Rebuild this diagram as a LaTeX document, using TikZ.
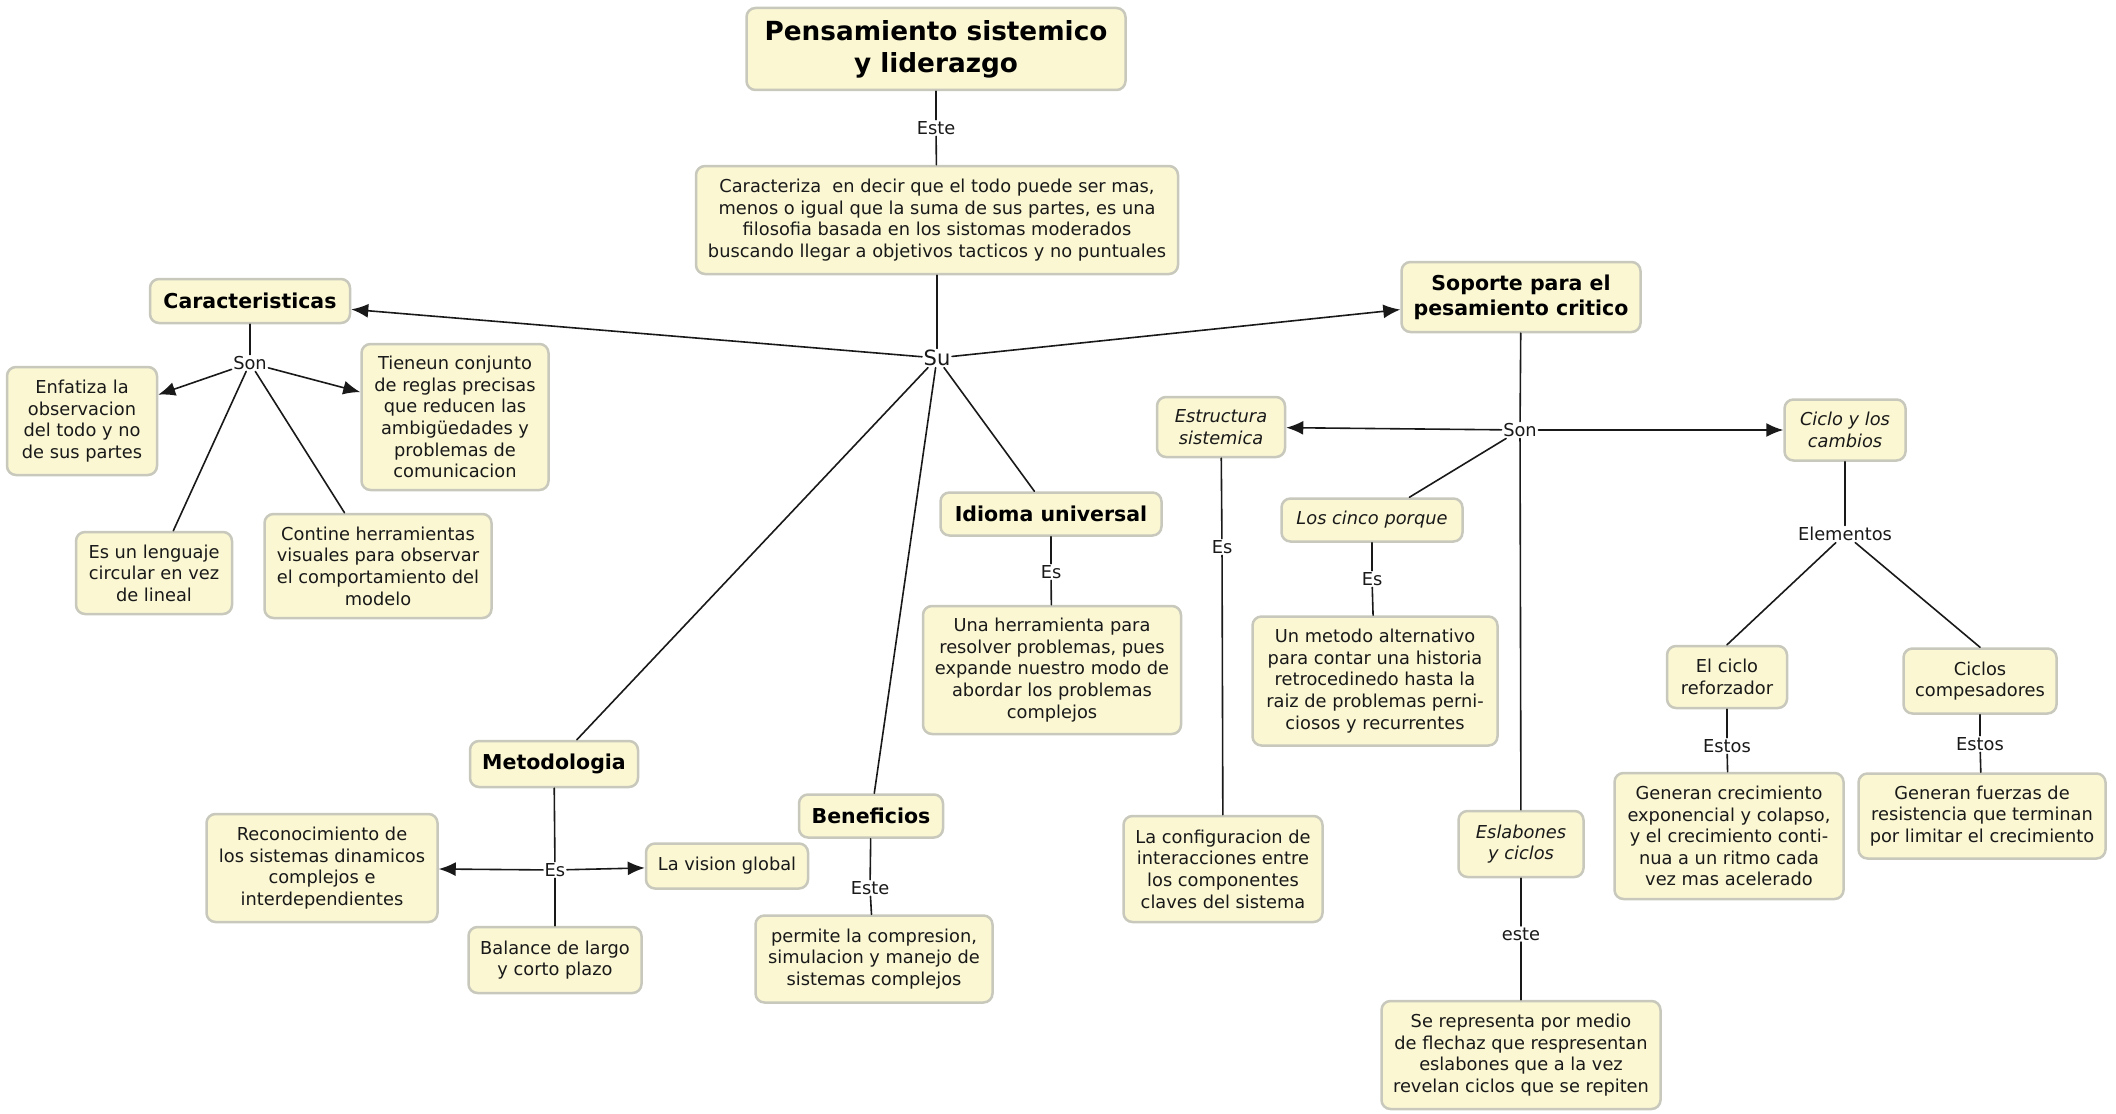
\documentclass[tikz,border=0pt]{standalone}
\usepackage{fontspec}
\setmainfont{DejaVu Sans}
\usetikzlibrary{arrows.meta}
\definecolor{cream}{RGB}{250,247,210}
\definecolor{rim}{RGB}{200,200,188}
\definecolor{ink}{RGB}{25,25,25}
\tikzset{
  concept/.style={draw=rim, line width=2.5pt, fill=cream, rounded corners=9pt, align=center,
    inner sep=4pt, text=ink, font=\fontsize{17.8}{21.6}\selectfont},
  head/.style={concept, text=black, font=\bfseries\fontsize{20.5}{25}\selectfont},
  lbl/.style={fill=white, inner sep=1.5pt, text=ink, font=\fontsize{17.8}{20}\selectfont},
  link/.style={draw=ink, line width=1.6pt},
  arr/.style={link, -{Latex[length=17pt,width=14pt]}},
}
\begin{document}
\begin{tikzpicture}[x=1pt, y=-1pt, line join=round, line cap=round]
\useasboundingbox[fill=white] (0,0) rectangle (2116,1113);
% centre
\node[head, minimum width=379pt, minimum height=82pt, font=\bfseries\fontsize{26.3}{32}\selectfont] (titulo) at (936,49) {Pensamiento sistemico\\y liderazgo};
\node[lbl] (este1) at (936,128) {Este};
\node[concept, minimum width=482pt, minimum height=108pt] (filosofia) at (937,220) {Caracteriza\ \ en decir que el todo puede ser mas,\\menos o igual que la suma de sus partes, es una\\filosofia basada en los sistomas moderados\\buscando llegar a objetivos tacticos y no puntuales};
\node[lbl, font=\fontsize{21}{24}\selectfont] (su) at (937,358) {Su};
% caracteristicas
\node[head, minimum width=200pt, minimum height=44pt] (caracteristicas) at (250,301) {Caracteristicas};
\node[lbl] (son1) at (250,363) {Son};
\node[concept, minimum width=150pt, minimum height=108pt] (enfatiza) at (82,421) {Enfatiza la\\observacion\\del todo y no\\de sus partes};
\node[concept, minimum width=187pt, minimum height=146pt] (reglas) at (455,417) {Tieneun conjunto\\de reglas precisas\\que reducen las\\ambigüedades y\\problemas de\\comunicacion};
\node[concept, minimum width=156pt, minimum height=82pt] (lenguaje) at (154,573) {Es un lenguaje\\circular en vez\\de lineal};
\node[concept, minimum width=227pt, minimum height=104pt] (visuales) at (378,566) {Contine herramientas\\visuales para observar\\el comportamiento del\\modelo};
% idioma, metodologia, beneficios
\node[head, minimum width=221pt, minimum height=43pt] (idioma) at (1051,514) {Idioma universal};
\node[lbl] (es3) at (1051,572) {Es};
\node[concept, minimum width=258pt, minimum height=128pt] (herramienta) at (1052,670) {Una herramienta para\\resolver problemas, pues\\expande nuestro modo de\\abordar los problemas\\complejos};
\node[head, minimum width=168pt, minimum height=46pt] (metodologia) at (554,764) {Metodologia};
\node[lbl] (es4) at (555,870) {Es};
\node[concept, minimum width=231pt, minimum height=108pt] (reconocimiento) at (322,868) {Reconocimiento de\\los sistemas dinamicos\\complejos e\\interdependientes};
\node[concept, minimum width=162pt, minimum height=45pt] (vision) at (727,866) {La vision global};
\node[concept, minimum width=173pt, minimum height=66pt] (balance) at (555,960) {Balance de largo\\y corto plazo};
\node[head, minimum width=144pt, minimum height=43pt] (beneficios) at (871,816) {Beneficios};
\node[lbl] (este2) at (870,888) {Este};
\node[concept, minimum width=237pt, minimum height=87pt] (permite) at (874,959) {permite la compresion,\\simulacion y manejo de\\sistemas complejos};
% soporte
\node[head, minimum width=239pt, minimum height=70pt] (soporte) at (1521,297) {Soporte para el\\pesamiento critico};
\node[lbl] (son2) at (1520,430) {Son};
\node[concept, minimum width=128pt, minimum height=60pt, font=\itshape\fontsize{17.8}{21.6}\selectfont] (estructura) at (1221,427) {Estructura\\sistemica};
\node[lbl] (es1) at (1222,547) {Es};
\node[concept, minimum width=199pt, minimum height=106pt] (configuracion) at (1223,869) {La configuracion de\\interacciones entre\\los componentes\\claves del sistema};
\node[concept, minimum width=181pt, minimum height=43pt, font=\itshape\fontsize{17.8}{21.6}\selectfont] (cinco) at (1372,520) {Los cinco porque};
\node[lbl] (es2) at (1372,579) {Es};
\node[concept, minimum width=245pt, minimum height=129pt] (metodo) at (1375,681) {Un metodo alternativo\\para contar una historia\\retrocedinedo hasta la\\raiz de problemas perni-\\ciosos y recurrentes};
\node[concept, minimum width=125pt, minimum height=66pt, font=\itshape\fontsize{17.8}{21.6}\selectfont] (eslabones) at (1521,844) {Eslabones\\y ciclos};
\node[lbl] (este3) at (1521,934) {este};
\node[concept, minimum width=279pt, minimum height=108pt] (representa) at (1521,1055) {Se representa por medio\\de flechaz que respresentan\\eslabones que a la vez\\revelan ciclos que se repiten};
\node[concept, minimum width=121pt, minimum height=61pt, font=\itshape\fontsize{17.8}{21.6}\selectfont] (ciclo) at (1845,430) {Ciclo y los\\cambios};
\node[lbl] (elementos) at (1845,534) {Elementos};
\node[concept, minimum width=120pt, minimum height=62pt] (reforzador) at (1727,677) {El ciclo\\reforzador};
\node[lbl] (estos1) at (1727,746) {Estos};
\node[concept, minimum width=229pt, minimum height=126pt] (crecimiento) at (1729,836) {Generan crecimiento\\exponencial y colapso,\\y el crecimiento conti-\\nua a un ritmo cada\\vez mas acelerado};
\node[concept, minimum width=153pt, minimum height=65pt] (compesadores) at (1980,681) {Ciclos\\compesadores};
\node[lbl] (estos2) at (1980,744) {Estos};
\node[concept, minimum width=247pt, minimum height=85pt] (fuerzas) at (1982,816) {Generan fuerzas de\\resistencia que terminan\\por limitar el crecimiento};
% connectors
\draw[link] (titulo) -- (este1);
\draw[link] (este1) -- (filosofia);
\draw[link] (filosofia) -- (su);
\draw[arr] (su) -- (caracteristicas);
\draw[arr] (su) -- (soporte);
\foreach \n in {idioma,metodologia,beneficios}
  \draw[link] (su) -- (\n);
\draw[link] (caracteristicas) -- (son1);
\draw[arr] (son1) -- (enfatiza);
\draw[arr] (son1) -- (reglas);
\draw[link] (son1) -- (lenguaje);
\draw[link] (son1) -- (visuales);
\draw[link] (idioma) -- (es3);
\draw[link] (es3) -- (herramienta);
\draw[link] (metodologia) -- (es4);
\draw[arr] (es4) -- (reconocimiento);
\draw[arr] (es4) -- (vision);
\draw[link] (es4) -- (balance);
\draw[link] (beneficios) -- (este2);
\draw[link] (este2) -- (permite);
\draw[link] (soporte) -- (son2);
\draw[arr] (son2) -- (estructura);
\draw[arr] (son2) -- (ciclo);
\draw[link] (son2) -- (cinco);
\draw[link] (son2) -- (eslabones);
\draw[link] (estructura) -- (es1);
\draw[link] (es1) -- (configuracion);
\draw[link] (cinco) -- (es2);
\draw[link] (es2) -- (metodo);
\draw[link] (eslabones) -- (este3);
\draw[link] (este3) -- (representa);
\draw[link] (ciclo) -- (elementos);
\draw[link] (elementos) -- (reforzador.north);
\draw[link] (elementos) -- (compesadores.north);
\draw[link] (reforzador) -- (estos1);
\draw[link] (estos1) -- (crecimiento);
\draw[link] (compesadores) -- (estos2);
\draw[link] (estos2) -- (fuerzas);
\end{tikzpicture}
\end{document}
